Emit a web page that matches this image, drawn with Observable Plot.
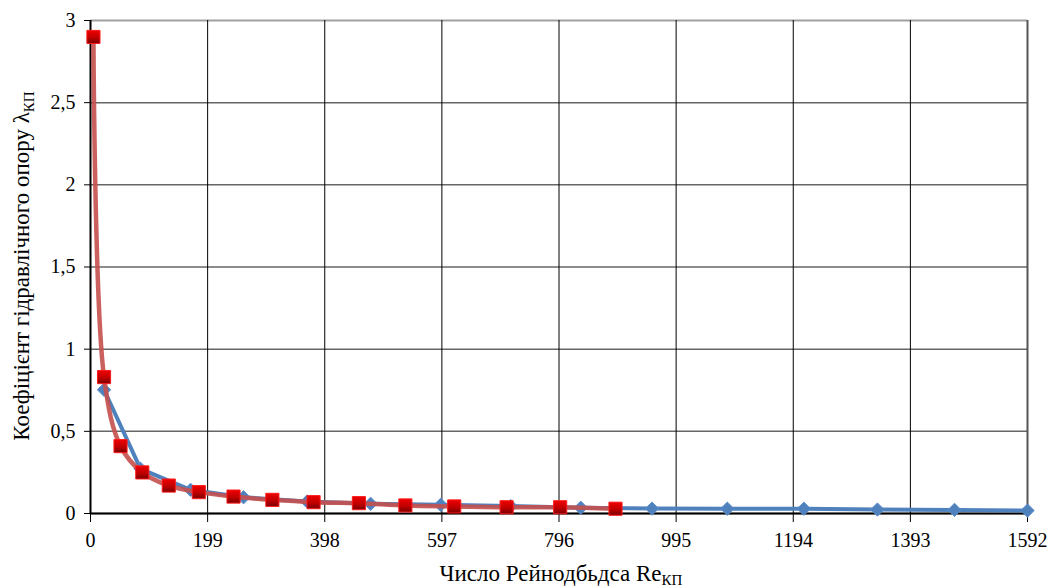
<!DOCTYPE html>
<html>
<head>
<meta charset="utf-8">
<script src="https://cdn.jsdelivr.net/npm/d3@7"></script>
<script src="https://cdn.jsdelivr.net/npm/@observablehq/plot@0.6"></script>
<style>
  html, body { margin: 0; padding: 0; background: #fff; }
  #chart svg { display: block; }
  #chart svg text { font-family: "Liberation Serif", "Times New Roman", serif !important; }
</style>
</head>
<body>
<div id="chart"></div>
<script>
// Tick values
const xTicks = [0, 199, 398, 597, 796, 995, 1194, 1393, 1592];
const yTicks = [0, 0.5, 1, 1.5, 2, 2.5, 3];

// Series 1 (blue, diamonds): Reynolds number and resistance coefficient
const blueRe = [23, 85, 170, 260, 368, 476, 595, 714, 833, 954, 1082, 1212, 1337, 1468, 1592];
const blueLambda = [0.753, 0.272, 0.144, 0.099, 0.073, 0.059, 0.053, 0.045, 0.035, 0.030, 0.029, 0.029, 0.024, 0.022, 0.018];

// Series 2 (red, squares)
const redRe = [5, 23, 51, 88, 133, 184, 243, 309, 379, 456, 535, 618, 707, 798, 892];
const redLambda = [2.9, 0.83, 0.41, 0.25, 0.17, 0.13, 0.103, 0.083, 0.069, 0.063, 0.049, 0.043, 0.038, 0.038, 0.029];

const blue = blueRe.map((x, i) => ({x, y: blueLambda[i]}));
const red = redRe.map((x, i) => ({x, y: redLambda[i]}));

const font = "'Liberation Serif', 'Times New Roman', serif";
const comma = d => String(d).replace(".", ",");

const svg = Plot.plot({
  width: 1051,
  height: 588,
  marginLeft: 90,
  marginRight: 24,
  marginTop: 20,
  marginBottom: 75,
  style: `font-family: ${font}; font-size: 20px; background: #fff; color: #000;`,
  x: {domain: [0, 1592], label: null},
  y: {domain: [0, 3], label: null},
  marks: [
    Plot.gridY(yTicks.filter(d => d < 3), {stroke: "#666", strokeOpacity: 1, strokeWidth: 1.5}),
    Plot.ruleY([3], {stroke: "#a0a0a0", strokeWidth: 2}),
    Plot.gridX(xTicks.filter(d => d > 0 && d < 1592), {stroke: "#000", strokeOpacity: 1, strokeWidth: 1}),
    Plot.ruleX([1592], {stroke: "#555", strokeWidth: 2}),
    Plot.ruleX([0], {stroke: "#000", strokeWidth: 2}),
    Plot.ruleY([0], {stroke: "#000", strokeWidth: 2}),
    Plot.axisX(xTicks, {tickSize: 9, tickPadding: 10, fontSize: 20, tickFormat: d => String(d)}),
    Plot.axisY(yTicks, {tickSize: 6, tickPadding: 9, fontSize: 20, tickFormat: comma}),
    Plot.line(blue, {x: "x", y: "y", stroke: "#4F81BD", strokeWidth: 4}),
    Plot.dot(blue, {x: "x", y: "y", symbol: "diamond2", r: 6, fill: "#4F81BD", stroke: "#5b8ccb", strokeWidth: 1}),
    Plot.line(red, {x: "x", y: "y", stroke: "#C4504E", strokeWidth: 4.5, strokeOpacity: 0.9, curve: "catmull-rom"}),
    Plot.dot(red, {x: "x", y: "y", symbol: "square", r: 7.4, fill: "url(#sqGrad)", stroke: "#ff1a1a", strokeWidth: 1})
  ]
});

const s = d3.select(svg);

// Gradient fill for the square markers
const grad = s.insert("defs", ":first-child").append("linearGradient")
  .attr("id", "sqGrad").attr("x1", 0).attr("y1", 0).attr("x2", 0).attr("y2", 1);
grad.append("stop").attr("offset", "0%").attr("stop-color", "#ee0000");
grad.append("stop").attr("offset", "55%").attr("stop-color", "#c00000");
grad.append("stop").attr("offset", "100%").attr("stop-color", "#7a0000");

// X axis title with subscript
const xt = s.append("text")
  .attr("x", 561).attr("y", 581)
  .attr("text-anchor", "middle")
  .attr("font-size", 23).attr("fill", "#000");
xt.append("tspan").text("Число Рейнодбьдса Re");
xt.append("tspan").attr("font-size", 15).attr("dy", 4).text("КП");

// Y axis title with subscript
const yt = s.append("text")
  .attr("transform", "translate(29,266) rotate(-90)")
  .attr("text-anchor", "middle")
  .attr("font-size", 23).attr("fill", "#000");
yt.append("tspan").text("Коефіцієнт гідравлічного опору λ");
yt.append("tspan").attr("font-size", 15).attr("dy", 5).text("КП");

document.getElementById("chart").appendChild(svg);
</script>
</body>
</html>
